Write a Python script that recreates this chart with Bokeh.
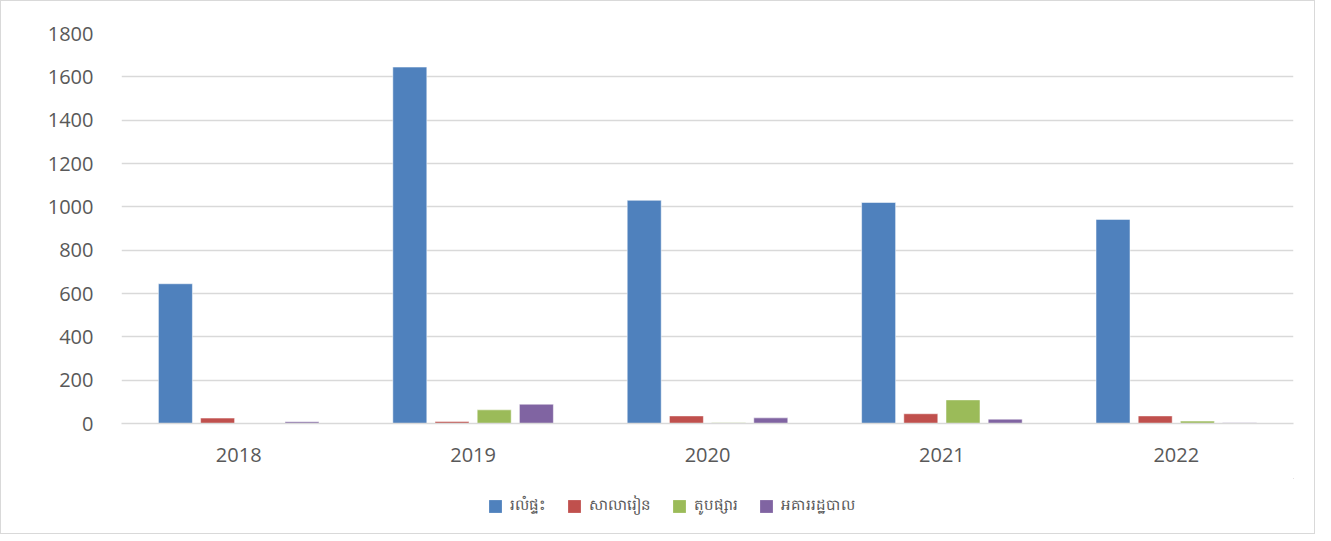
from bokeh.plotting import figure
from bokeh.models import ColumnDataSource, Legend, LegendItem, FactorRange, SingleIntervalTicker
from bokeh.layouts import column
from bokeh.transform import dodge
from bokeh.embed import file_html
from bokeh.resources import INLINE

years = ["2018", "2019", "2020", "2021", "2022"]
series_names = ["រលំផ្ទះ", "សាលារៀន", "តូបផ្សារ", "អគាររដ្ឋបាល"]
houses = [645, 1645, 1030, 1020, 942]
schools = [25, 9, 35, 45, 35]
markets = [0, 63, 3, 109, 11]
admin = [8, 89, 26, 20, 4]
colors = ["#4F81BD", "#C0504D", "#9BBB59", "#8064A2"]

src = ColumnDataSource(dict(years=years, houses=houses, schools=schools,
                            markets=markets, admin=admin))

W = 1313
p = figure(x_range=FactorRange(*years), y_range=(0, 1800),
           width=W, height=477, output_backend="svg", toolbar_location=None,
           min_border_left=120, min_border_right=21, min_border_top=32,
           min_border_bottom=55)

keys = ["houses", "schools", "markets", "admin"]
offsets = [-0.27, -0.09, 0.09, 0.27]
for k, off, c in zip(keys, offsets, colors):
    p.vbar(x=dodge("years", off, range=p.x_range), top=k, width=0.145,
           source=src, fill_color=c, line_color="white", line_width=0.5)

p.yaxis.ticker = SingleIntervalTicker(interval=200)
p.ygrid.grid_line_color = "#d9d9d9"
p.ygrid.grid_line_width = 1.5
p.xgrid.grid_line_color = None
p.outline_line_color = None
p.yaxis.axis_line_color = None
p.yaxis.major_tick_line_color = None
p.yaxis.minor_tick_line_color = None
p.yaxis.major_label_standoff = 22
p.xaxis.axis_line_color = "#d9d9d9"
p.xaxis.axis_line_width = 1.5
p.xaxis.major_tick_line_color = None
p.xaxis.minor_tick_line_color = None
p.xaxis.major_label_standoff = 18
for ax in (p.xaxis, p.yaxis):
    ax.major_label_text_font = "Open Sans"
    ax.major_label_text_font_size = "20px"
    ax.major_label_text_color = "#595959"

# legend strip
lf = figure(width=W, height=55, output_backend="svg", toolbar_location=None,
            x_axis_type=None, y_axis_type=None, x_range=(0, 1), y_range=(0, 1),
            min_border=0)
lf.outline_line_color = None
lf.xgrid.grid_line_color = None
lf.ygrid.grid_line_color = None
items = []
for n, c in zip(series_names, colors):
    r = lf.vbar(x=[5], top=[5], bottom=[4], width=0.1, fill_color=c, line_color=None)
    items.append(LegendItem(label=n, renderers=[r]))
legend = Legend(items=items, orientation="horizontal", location=(366, 16),
                label_text_font_size="15px", label_text_color="#595959",
                glyph_width=16, glyph_height=16, spacing=20, label_standoff=7,
                border_line_color=None, background_fill_alpha=0, margin=0, padding=0)
lf.add_layout(legend, "center")

layout = column(p, lf, spacing=0)
layout.styles = {"border": "1px solid #d9d9d9"}

open("out.html", "w").write(file_html(layout, INLINE))
